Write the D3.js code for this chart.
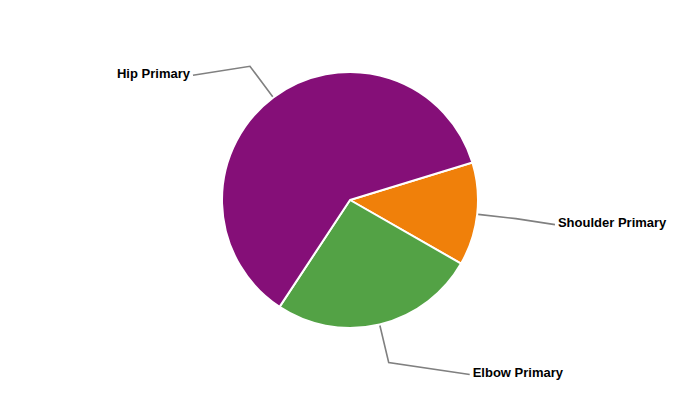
<!DOCTYPE html>
<html>
<head>
<meta charset="utf-8">
<script src="https://cdn.jsdelivr.net/npm/d3@7"></script>
<style>
  html,body{margin:0;padding:0;background:#fff;}
  #chart{width:700px;height:400px;}
  text{font-family:"Liberation Sans",Arial,sans-serif;}
</style>
</head>
<body>
<div id="chart"></div>
<script>
// data (percent share)
const categories=['Shoulder Primary','Elbow Primary','Hip Primary'];
const values=[13,26,61];
const colors=['#F0800A','#53A245','#850F78'];

// label layout: end point of leader line relative to elbow point
const labelOffset={'Shoulder Primary':[39,6],'Elbow Primary':[81,12],'Hip Primary':[-57,9]};

const W=700,H=400,cx=350,cy=200,R=128,Rk=167;
const svg=d3.select('#chart').append('svg').attr('width',W).attr('height',H);
const g=svg.append('g').attr('transform',`translate(${cx},${cy})`);

const data=categories.map((c,i)=>({name:c,value:values[i],color:colors[i]}));
const start=73*Math.PI/180;
const pie=d3.pie().value(d=>d.value).sort(null).startAngle(start).endAngle(start+2*Math.PI);
const arcs=pie(data);
const arc=d3.arc().innerRadius(0).outerRadius(R);

g.selectAll('path.slice').data(arcs).join('path').attr('class','slice')
  .attr('d',arc).attr('fill',d=>d.data.color).attr('stroke','#fff').attr('stroke-width',2).attr('stroke-linejoin','round');

const pt=(a,r)=>[Math.sin(a)*r,-Math.cos(a)*r];
arcs.forEach(d=>{
  const a=(d.startAngle+d.endAngle)/2;
  const p0=pt(a,R+1),p1=pt(a,Rk);
  const off=labelOffset[d.data.name];
  const p2=[p1[0]+off[0],p1[1]+off[1]];
  g.append('polyline').attr('points',[p0,p1,p2].map(p=>p.join(',')).join(' '))
    .attr('fill','none').attr('stroke','#808080').attr('stroke-width',1.6);
  const right=off[0]>0;
  g.append('text').attr('x',p2[0]+(right?3:-3)).attr('y',p2[1]-1)
    .attr('text-anchor',right?'start':'end').attr('dominant-baseline','middle')
    .attr('font-size',13).attr('font-weight','bold').attr('fill','#000').text(d.data.name);
});
</script>
</body>
</html>
